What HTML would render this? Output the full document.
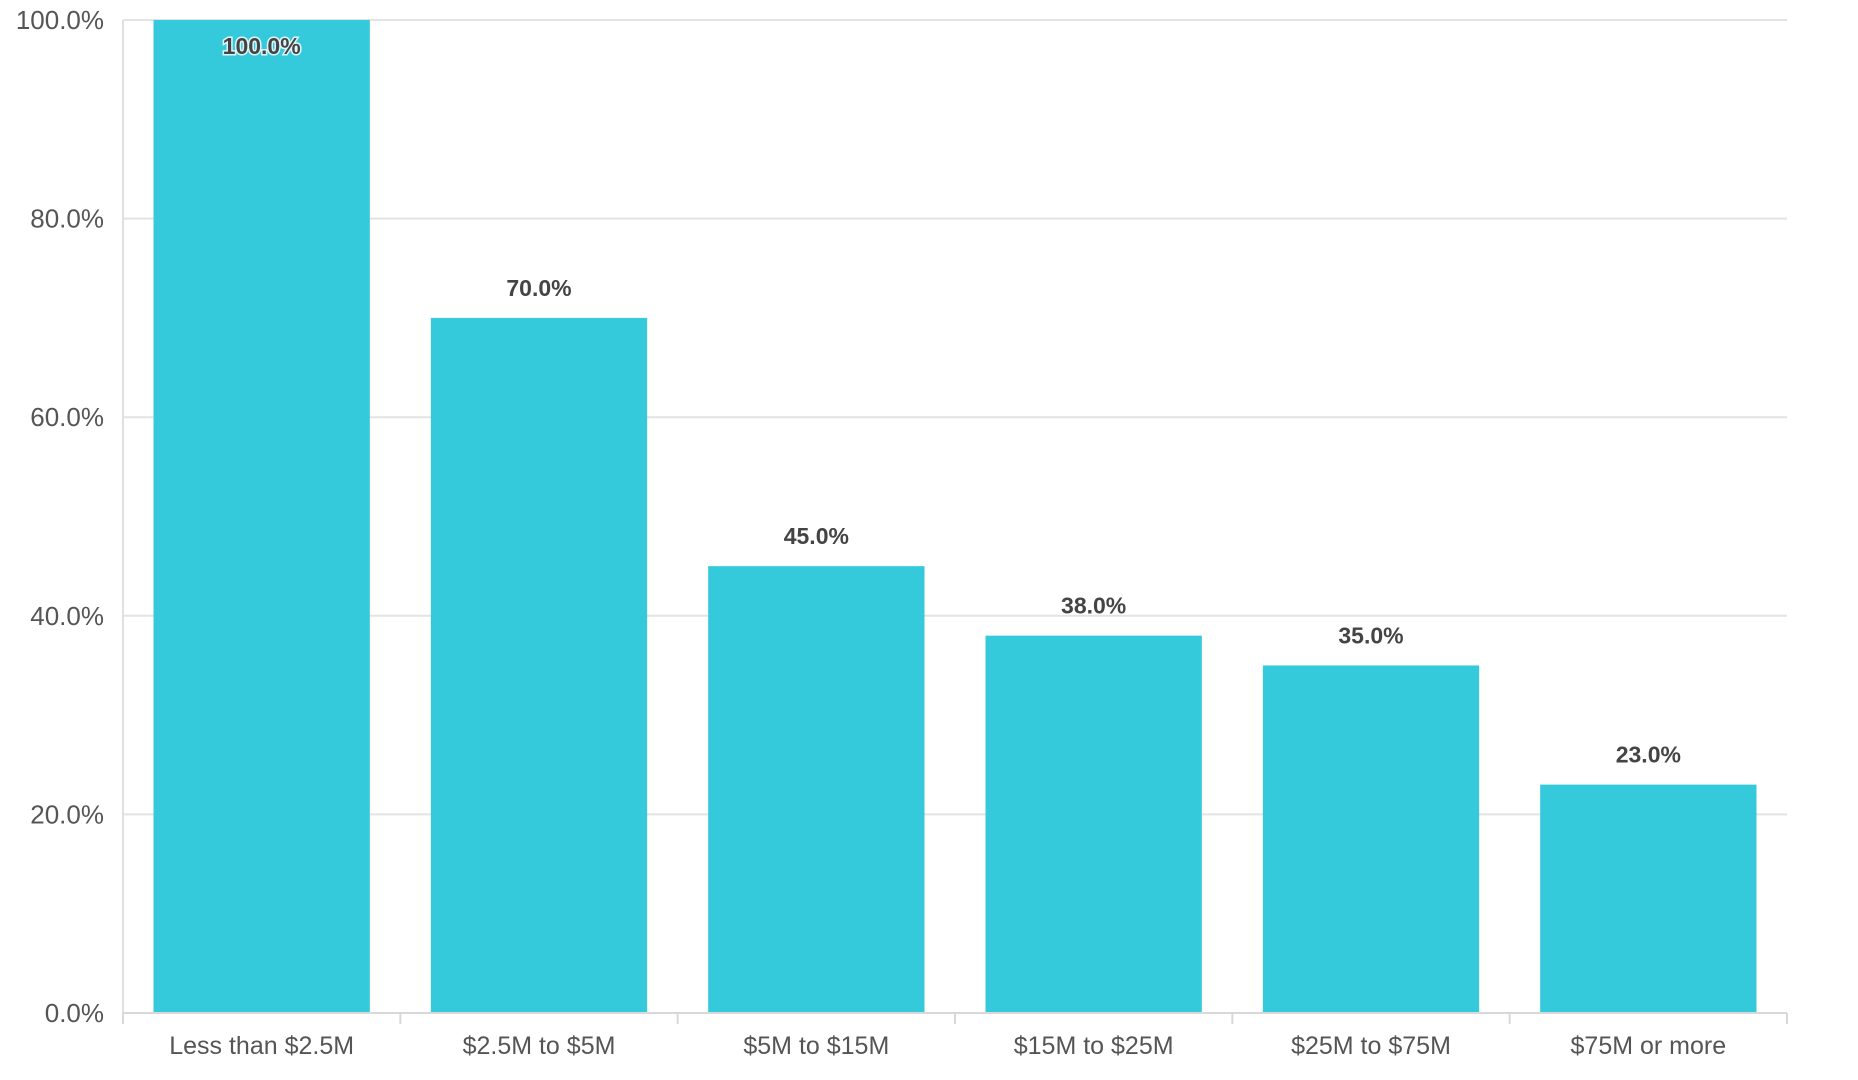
<!DOCTYPE html>
<html><head><meta charset="utf-8"><style>
html,body{margin:0;padding:0;background:#fff;}
svg{display:block;font-family:"Liberation Sans",sans-serif;}
</style></head><body>
<svg id="chart" width="1858" height="1080" viewBox="0 0 1858 1080" xmlns="http://www.w3.org/2000/svg"></svg>
<script>
const categories = ["Less than $2.5M","$2.5M to $5M","$5M to $15M","$15M to $25M","$25M to $75M","$75M or more"];
const values = [100,70,45,38,35,23];
const yTicks = [0,20,40,60,80,100];
const yTickLabels = ["0.0%","20.0%","40.0%","60.0%","80.0%","100.0%"];

const NS="http://www.w3.org/2000/svg";
const svg=document.getElementById('chart');
const L=123,R=1787,T=20,B=1013;
const band=(R-L)/categories.length;
function y(v){return B-(v/100)*(B-T);}
function xb(i){return L+i*band;}
function mk(tag,attrs,parent){const e=document.createElementNS(NS,tag);for(const k in attrs)e.setAttribute(k,attrs[k]);(parent||svg).appendChild(e);return e;}

const grid=mk('g',{});


yTicks.forEach((t,i)=>{
  if(t>0){const g=mk('line',{x1:L,x2:R,y1:y(t),y2:y(t),stroke:'#e3e3e3','stroke-width':2},grid);
  
  }
  const lb=mk('text',{x:104,y:y(t)+9,'text-anchor':'end','font-size':26,fill:'#555'});
  lb.textContent=yTickLabels[i];
  
  
});
const ya=mk('line',{x1:L,x2:L,y1:T,y2:B,stroke:'#e0e0e0','stroke-width':2});



categories.forEach((c,i)=>{
  const bw=band*0.78, x0=xb(i)+(band-bw)/2;
  const b=mk('rect',{x:x0,y:y(values[i]),width:bw,height:B-y(values[i]),fill:'#35c9dc'});
  
  
  const inside=values[i]>=95;
  const vl=mk('text',{x:x0+bw/2,y:inside?y(values[i])+34:y(values[i])-22,'text-anchor':'middle','font-size':23,'font-weight':'bold',fill:'#444'});
  if(inside){vl.setAttribute('stroke','#dff6fa');vl.setAttribute('stroke-width','3');vl.setAttribute('paint-order','stroke');}
  vl.textContent=values[i].toFixed(1)+'%';
  
  
  const xl=mk('text',{x:xb(i)+band/2,y:1054,'text-anchor':'middle','font-size':25,fill:'#555'});
  xl.textContent=c;
  
  
});
for(let i=0;i<=categories.length;i++){
  const tk=mk('line',{x1:xb(i),x2:xb(i),y1:B,y2:B+11,stroke:'#d8d8d8','stroke-width':2});
  
  
}
const xa=mk('line',{x1:L,x2:R,y1:B,y2:B,stroke:'#d8d8d8','stroke-width':2});


</script>
</body></html>
